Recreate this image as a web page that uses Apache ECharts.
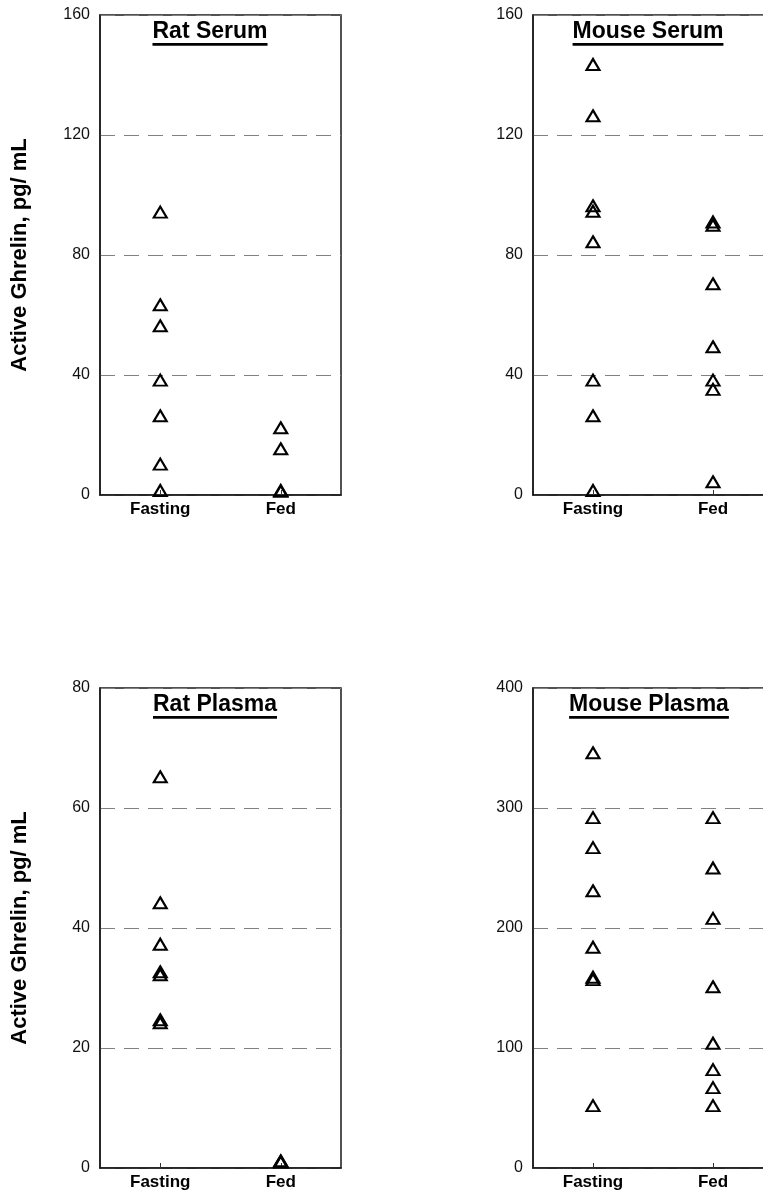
<!DOCTYPE html>
<html>
<head>
<meta charset="utf-8">
<script src="https://cdn.jsdelivr.net/npm/echarts@6/dist/echarts.min.js"></script>
<style>
html,body{margin:0;padding:0;background:#fff;}
#chart{width:763px;height:1197px;}
</style>
</head>
<body>
<div id="chart"></div>
<script>
// ---- data ----
const categories = ['Fasting', 'Fed'];
const panelTitles = ['Rat Serum', 'Mouse Serum', 'Rat Plasma', 'Mouse Plasma'];
const yAxisTitle = 'Active Ghrelin, pg/ mL';
const yMax = [160, 160, 80, 400];
const yStep = [40, 40, 20, 100];

const ratSerumFasting = [94.3, 63.4, 56.4, 38.3, 26.4, 10.3, 1.5];
const ratSerumFed = [22.4, 15.4, 1.5, 1.2];
const mouseSerumFasting = [143.5, 126.4, 96.4, 94.6, 84.4, 38.3, 26.4, 1.5];
const mouseSerumFed = [91.0, 89.9, 70.4, 49.4, 38.3, 35.2, 4.4];
const ratPlasmaFasting = [65.2, 44.2, 37.3, 32.7, 32.2, 24.7, 24.2];
const ratPlasmaFed = [1.2, 1.0, 1.1];
const mousePlasmaFasting = [346, 292, 267, 231, 184, 159, 157, 52];
const mousePlasmaFed = [292, 250, 208, 151, 104, 82, 67, 52];

const panelData = [
  [ratSerumFasting, ratSerumFed],
  [mouseSerumFasting, mouseSerumFed],
  [ratPlasmaFasting, ratPlasmaFed],
  [mousePlasmaFasting, mousePlasmaFed]
];

// ---- layout ----
const FONT = '"Liberation Sans", Arial, sans-serif';
const grids = [
  {left: 100, top: 15, width: 241, height: 480},
  {left: 533, top: 15, width: 240, height: 480},
  {left: 100, top: 688, width: 241, height: 480},
  {left: 533, top: 688, width: 240, height: 480}
];
const titleCenters = [210, 648, 215, 649];

const chart = echarts.init(document.getElementById('chart'), null, {renderer: 'canvas'});

const gridOpt = grids.map(g => Object.assign({
  show: true, borderColor: '#1a1a1a', borderWidth: 1.5, backgroundColor: 'transparent',
  outerBoundsMode: 'none', containLabel: false
}, g));

const xAxes = grids.map((g, i) => ({
  type: 'category', gridIndex: i, data: categories, boundaryGap: true,
  axisLine: {show: true, lineStyle: {color: '#1a1a1a', width: 1.5}},
  axisTick: {show: true, inside: true, alignWithLabel: true, length: 5, lineStyle: {color: '#333', width: 1}},
  axisLabel: {color: '#000', fontFamily: FONT, fontWeight: 'bold', fontSize: 17, margin: 6},
  splitLine: {show: false}
}));

const yAxes = grids.map((g, i) => ({
  type: 'value', gridIndex: i, min: 0, max: yMax[i], interval: yStep[i],
  name: (i % 2 === 0) ? yAxisTitle : '',
  nameLocation: 'middle', nameGap: 69,
  nameTextStyle: {color: '#000', fontFamily: FONT, fontWeight: 'bold', fontSize: 22},
  axisLine: {show: true, lineStyle: {color: '#1a1a1a', width: 1.5}},
  axisTick: {show: false},
  axisLabel: {color: '#111', fontFamily: FONT, fontSize: 16, margin: 10},
  splitLine: {show: true, lineStyle: {color: '#808080', width: 1, type: [15, 9]}}
}));

const series = [];
panelData.forEach((pair, i) => {
  pair.forEach((vals, c) => {
    series.push({
      type: 'scatter', xAxisIndex: i, yAxisIndex: i,
      symbol: 'triangle', symbolSize: [13, 11],
      itemStyle: {color: 'rgba(0,0,0,0)', borderColor: '#000', borderWidth: 2.1, opacity: 1},
      data: vals.map(v => [categories[c], v]),
      silent: true, z: 5
    });
  });
});

// titles with underline
const mctx = document.createElement('canvas').getContext('2d');
const titleFont = 'bold 23px ' + FONT;
mctx.font = titleFont;
const graphics = [];
panelTitles.forEach((t, i) => {
  const g = grids[i];
  const w = mctx.measureText(t).width;
  const cx = titleCenters[i];
  graphics.push({
    type: 'text', x: cx, y: g.top + 17, z: 10,
    style: {text: t, fill: '#000', font: titleFont, align: 'center', verticalAlign: 'middle'}
  });
  graphics.push({
    type: 'rect', z: 10,
    shape: {x: cx - w / 2, y: g.top + 28, width: w, height: 2.8},
    style: {fill: '#000'}
  });
});

chart.setOption({
  animation: false,
  backgroundColor: '#fff',
  grid: gridOpt,
  xAxis: xAxes,
  yAxis: yAxes,
  series: series,
  graphic: graphics
});
</script>
</body>
</html>
